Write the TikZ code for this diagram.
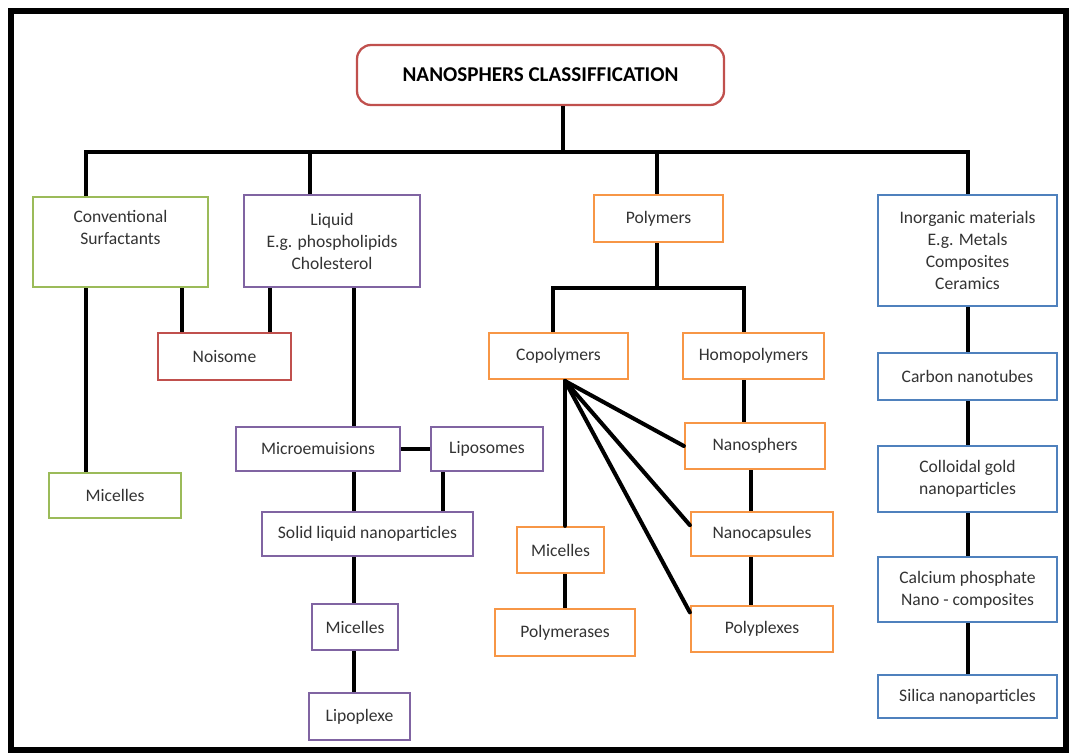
\documentclass[tikz,border=0pt]{standalone}
\usepackage{fontspec}
\setmainfont{Carlito}
\definecolor{cgreen}{HTML}{9BBB59}
\definecolor{cpurple}{HTML}{8064A2}
\definecolor{corange}{HTML}{F79646}
\definecolor{cblue}{HTML}{4F81BD}
\definecolor{cred}{HTML}{C0504D}
\tikzset{
  box/.style={draw, line width=1.3pt, fill=white, inner sep=0pt, align=center,
    font=\fontsize{10}{12.5}\selectfont, text=black!80},
  sz/.style 2 args={minimum width=#1*0.02cm, minimum height=#2*0.02cm},
  link/.style={line width=2.3pt},
}
\begin{document}
\begin{tikzpicture}[x=0.02cm,y=-0.02cm]
\useasboundingbox (0,0) rectangle (1070,754);
\draw[line width=3.4pt] (11,11) rectangle (1066,750); % marco
% cajas
\node[box, sz={367}{60}, draw=cred, rounded corners=8pt, font=\fontsize{12}{14}\selectfont\bfseries, text=black] (title) at (540.5,75) {NANOSPHERS CLASSIFFICATION};
\node[box, sz={175}{90}, draw=cgreen] (conv) at (120.5,242) {Conventional\\Surfactants\\\strut};
\node[box, sz={176}{92}, draw=cpurple] (liquid) at (332,241) {Liquid\\E.g. phospholipids\\Cholesterol};
\node[box, sz={129}{47}, draw=corange] (poly) at (658.5,218.5) {Polymers};
\node[box, sz={179}{111}, draw=cblue] (inorg) at (967.5,250.5) {Inorganic materials\\E.g. Metals\\Composites\\Ceramics};
\node[box, sz={133}{47}, draw=cred] (noisome) at (224.5,356.5) {Noisome};
\node[box, sz={132}{45}, draw=cgreen] (mic1) at (115,495.5) {Micelles};
\node[box, sz={164}{44}, draw=cpurple] (micro) at (318,449) {Microemuisions};
\node[box, sz={112}{44}, draw=cpurple] (lipo) at (487,449) {Liposomes};
\node[box, sz={211}{44}, draw=cpurple] (sln) at (367.5,534) {Solid liquid nanoparticles};
\node[box, sz={86}{46}, draw=cpurple] (mic2) at (355,627) {Micelles};
\node[box, sz={101}{47}, draw=cpurple] (lipoplex) at (359.5,716.5) {Lipoplexe};
\node[box, sz={139}{46}, draw=corange] (copo) at (558.5,356) {Copolymers};
\node[box, sz={141}{46}, draw=corange] (homo) at (753.5,356) {Homopolymers};
\node[box, sz={140}{46}, draw=corange] (nanos) at (755,446) {Nanosphers};
\node[box, sz={142}{44}, draw=corange] (nanoc) at (762,534) {Nanocapsules};
\node[box, sz={142}{46}, draw=corange] (polyp) at (762,629) {Polyplexes};
\node[box, sz={87}{46}, draw=corange] (mic3) at (560.5,550) {Micelles};
\node[box, sz={140}{47}, draw=corange] (polym) at (565,632.5) {Polymerases};
\node[box, sz={179}{47}, draw=cblue] (carbon) at (967.5,376.5) {Carbon nanotubes};
\node[box, sz={179}{66}, draw=cblue] (colloid) at (967.5,479) {Colloidal gold\\nanoparticles};
\node[box, sz={179}{65}, draw=cblue] (calcium) at (967.5,589.5) {Calcium phosphate\\Nano - composites};
\node[box, sz={179}{43}, draw=cblue] (silica) at (967.5,696.5) {Silica nanoparticles};
% puntos de union
\coordinate (bus) at (563,152);
\coordinate (b1) at (86,152);
\coordinate (b2) at (310,152);
\coordinate (b3) at (657,152);
\coordinate (b4) at (968,152);
\coordinate (k1) at (182,0);
\coordinate (k2) at (270,0);
\coordinate (k4) at (354,0);
\coordinate (k5) at (443,0);
\coordinate (sub) at (657,288);
\coordinate (s1) at (553,288);
\coordinate (s2) at (744,288);
\coordinate (k7) at (751,0);
\coordinate (fan) at (565,381);
% lineas
\draw[link] (title.south -| bus) -- (bus);
\draw[link] (b1 |- conv.north) -- (b1) -- (b4) -- (b4 |- inorg.north);
\draw[link] (b2) -- (b2 |- liquid.north);
\draw[link] (b3) -- (b3 |- poly.north);
\draw[link] (k1 |- conv.south) -- (k1 |- noisome.north);
\draw[link] (k2 |- liquid.south) -- (k2 |- noisome.north);
\draw[link] (b1 |- conv.south) -- (b1 |- mic1.north);
\draw[link] (k4 |- liquid.south) -- (k4 |- micro.north);
\draw[link] (micro.east) -- (lipo.west);
\draw[link] (k4 |- micro.south) -- (k4 |- sln.north);
\draw[link] (k5 |- lipo.south) -- (k5 |- sln.north);
\draw[link] (k4 |- sln.south) -- (k4 |- mic2.north);
\draw[link] (k4 |- mic2.south) -- (k4 |- lipoplex.north);
\draw[link] (sub |- poly.south) -- (sub);
\draw[link] (s1 |- copo.north) -- (s1) -- (s2) -- (s2 |- homo.north);
\draw[link] (s2 |- homo.south) -- (s2 |- nanos.north);
\draw[link] (k7 |- nanos.south) -- (k7 |- nanoc.north);
\draw[link] (k7 |- nanoc.south) -- (k7 |- polyp.north);
\draw[link, line cap=round] (fan) -- (fan |- mic3.north);
\draw[link, line cap=round] (fan) -- (nanos.west);
\draw[link, line cap=round] (fan) -- (nanoc.173);
\draw[link, line cap=round] (fan) -- (polyp.167);
\draw[link] (fan |- mic3.south) -- (fan |- polym.north);
\draw[link] (b4 |- inorg.south) -- (b4 |- carbon.north);
\draw[link] (b4 |- carbon.south) -- (b4 |- colloid.north);
\draw[link] (b4 |- colloid.south) -- (b4 |- calcium.north);
\draw[link] (b4 |- calcium.south) -- (b4 |- silica.north);
\end{tikzpicture}
\end{document}
